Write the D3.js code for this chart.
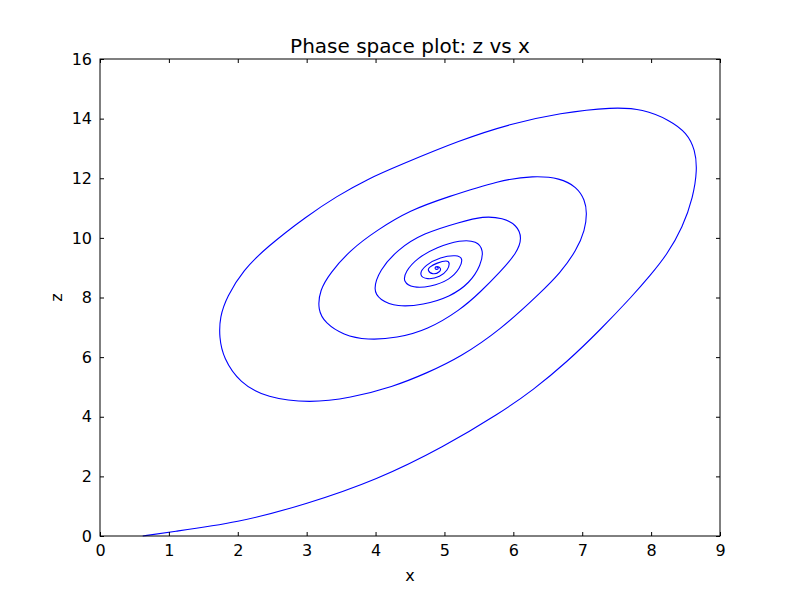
<html>
<head>
  <title>Phase space plot</title>
  <script src='https://d3js.org/d3.v7.min.js'></script>
  <style type="text/css">
    body { margin: 0; background: #fff; }
    text { font-family: 'DejaVu Sans', sans-serif; }
    .tick line { stroke: #000; }
    .domain { display: none; }
  </style>
</head>
<body>
  <script>
// trajectory, in data units
var xs = [0.62, 1.00, 2.00, 3.00, 4.02, 4.99, 5.81, 6.29, 6.78, 7.26, 7.74, 7.98, 8.23, 8.46, 8.61, 8.67, 8.64, 8.52, 8.27, 7.88, 7.45, 6.68, 5.95, 5.23, 4.35, 3.88, 3.44, 3.00, 2.42, 2.08, 1.84, 1.74, 1.73, 1.79, 2.03, 2.42, 3.05, 3.63, 4.25, 4.75, 5.23,
  5.81, 6.39, 6.68, 6.92, 7.04, 7.07, 7.04, 6.92, 6.68, 6.29, 5.81, 5.04, 4.50, 4.02, 3.63, 3.34, 3.19, 3.16, 3.27, 3.53, 3.88, 4.31, 4.75, 5.23,
  5.52, 5.81, 6.05, 6.13, 6.05, 5.85, 5.56, 5.23, 4.69, 4.31, 4.06, 3.96, 4.06, 4.31, 4.69, 5.08, 5.37, 5.53, 5.57, 5.47, 5.23, 4.89, 4.60, 4.43, 4.40,
  4.54, 4.79, 5.08, 5.23, 5.27, 5.18, 4.94, 4.72, 4.62, 4.75, 4.94, 5.05, 5.08, 5.04, 4.89, 4.78, 4.75, 4.83, 4.94, 4.95, 4.89, 4.85, 4.89, 4.92, 4.89];
var zs = [0.00, 0.13, 0.44, 1.07, 1.88, 2.99, 4.13, 4.90, 5.84, 6.91, 8.08, 8.72, 9.43, 10.36, 11.37, 12.28, 12.95, 13.52, 13.95, 14.32, 14.39, 14.19, 13.82, 13.28, 12.44, 11.97, 11.40, 10.73, 9.69, 8.92, 8.02, 7.35, 6.67, 5.97, 5.13, 4.63, 4.46, 4.63, 5.00, 5.47, 6.00,
  6.91, 8.15, 8.82, 9.59, 10.26, 10.83, 11.27, 11.71, 12.01, 12.08, 11.94, 11.37, 10.93, 10.26, 9.59, 8.82, 8.25, 7.58, 7.14, 6.74, 6.57, 6.64, 6.91, 7.58,
  8.18, 8.86, 9.49, 10.00, 10.43, 10.67, 10.73, 10.53, 10.16, 9.59, 8.92, 8.25, 7.92, 7.68, 7.75, 8.02, 8.49, 9.09, 9.59, 9.90, 9.93, 9.69, 9.32, 8.86, 8.52,
  8.32, 8.35, 8.59, 8.99, 9.32, 9.43, 9.36, 9.09, 8.75, 8.59, 8.69, 8.92, 9.16, 9.26, 9.16, 9.02, 8.92, 8.75, 8.86, 8.99, 9.06, 8.99, 8.92, 8.99, 9.02];
var xTicks = [0, 1, 2, 3, 4, 5, 6, 7, 8, 9];
var zTicks = [0, 2, 4, 6, 8, 10, 12, 14, 16];

var width = 800,
    height = 596,
    margin = {left: 100, right: 80, top: 59, bottom: 60};

var x = d3.scaleLinear().domain([0, 9]).range([margin.left, width - margin.right]);
var y = d3.scaleLinear().domain([0, 16]).range([height - margin.bottom, margin.top]);

var svg = d3.select("body").append("svg")
    .attr("width", width)
    .attr("height", height);

svg.append("rect")
    .attr("width", width)
    .attr("height", height)
    .attr("fill", "#fff");

var points = xs.map(function(d, i) { return [d, zs[i]]; });

// basis spline smooths out the small reading errors of the hand-picked points
var line = d3.line()
    .x(function(d) { return x(d[0]); })
    .y(function(d) { return y(d[1]); })
    .curve(d3.curveBasis);

svg.append("path")
    .datum(points)
    .attr("fill", "none")
    .attr("stroke", "#0000ff")
    .attr("stroke-width", 1.1)
    .attr("d", line);

var plotBottom = height - margin.bottom, plotTop = margin.top,
    plotLeft = margin.left, plotRight = width - margin.right;

// axes, ticks pointing inward on all four sides
function addAxis(axis, tx, ty, labels) {
  var g = svg.append("g")
      .attr("transform", "translate(" + tx + "," + ty + ")")
      .call(axis);
  g.selectAll("text")
      .attr("font-size", "16px")
      .attr("fill", "#000")
      .style("display", labels ? null : "none");
  return g;
}

addAxis(d3.axisBottom(x).tickValues(xTicks).tickSize(-4).tickPadding(9), 0, plotBottom, true);
addAxis(d3.axisTop(x).tickValues(xTicks).tickSize(-4), 0, plotTop, false);
addAxis(d3.axisLeft(y).tickValues(zTicks).tickSize(-4).tickPadding(8), plotLeft, 0, true);
addAxis(d3.axisRight(y).tickValues(zTicks).tickSize(-4), plotRight, 0, false);

svg.append("rect")
    .attr("x", plotLeft)
    .attr("y", plotTop)
    .attr("width", plotRight - plotLeft)
    .attr("height", plotBottom - plotTop)
    .attr("fill", "none")
    .attr("stroke", "#000")
    .attr("stroke-width", 1);

svg.append("text")
    .attr("x", (plotLeft + plotRight) / 2)
    .attr("y", 53)
    .attr("text-anchor", "middle")
    .attr("font-size", "20px")
    .text("Phase space plot: z vs x");

svg.append("text")
    .attr("x", (plotLeft + plotRight) / 2)
    .attr("y", 581)
    .attr("text-anchor", "middle")
    .attr("font-size", "16px")
    .text("x");

svg.append("text")
    .attr("transform", "translate(62," + ((plotTop + plotBottom) / 2) + ") rotate(-90)")
    .attr("text-anchor", "middle")
    .attr("font-size", "16px")
    .text("z");
  </script>
</body>
</html>
